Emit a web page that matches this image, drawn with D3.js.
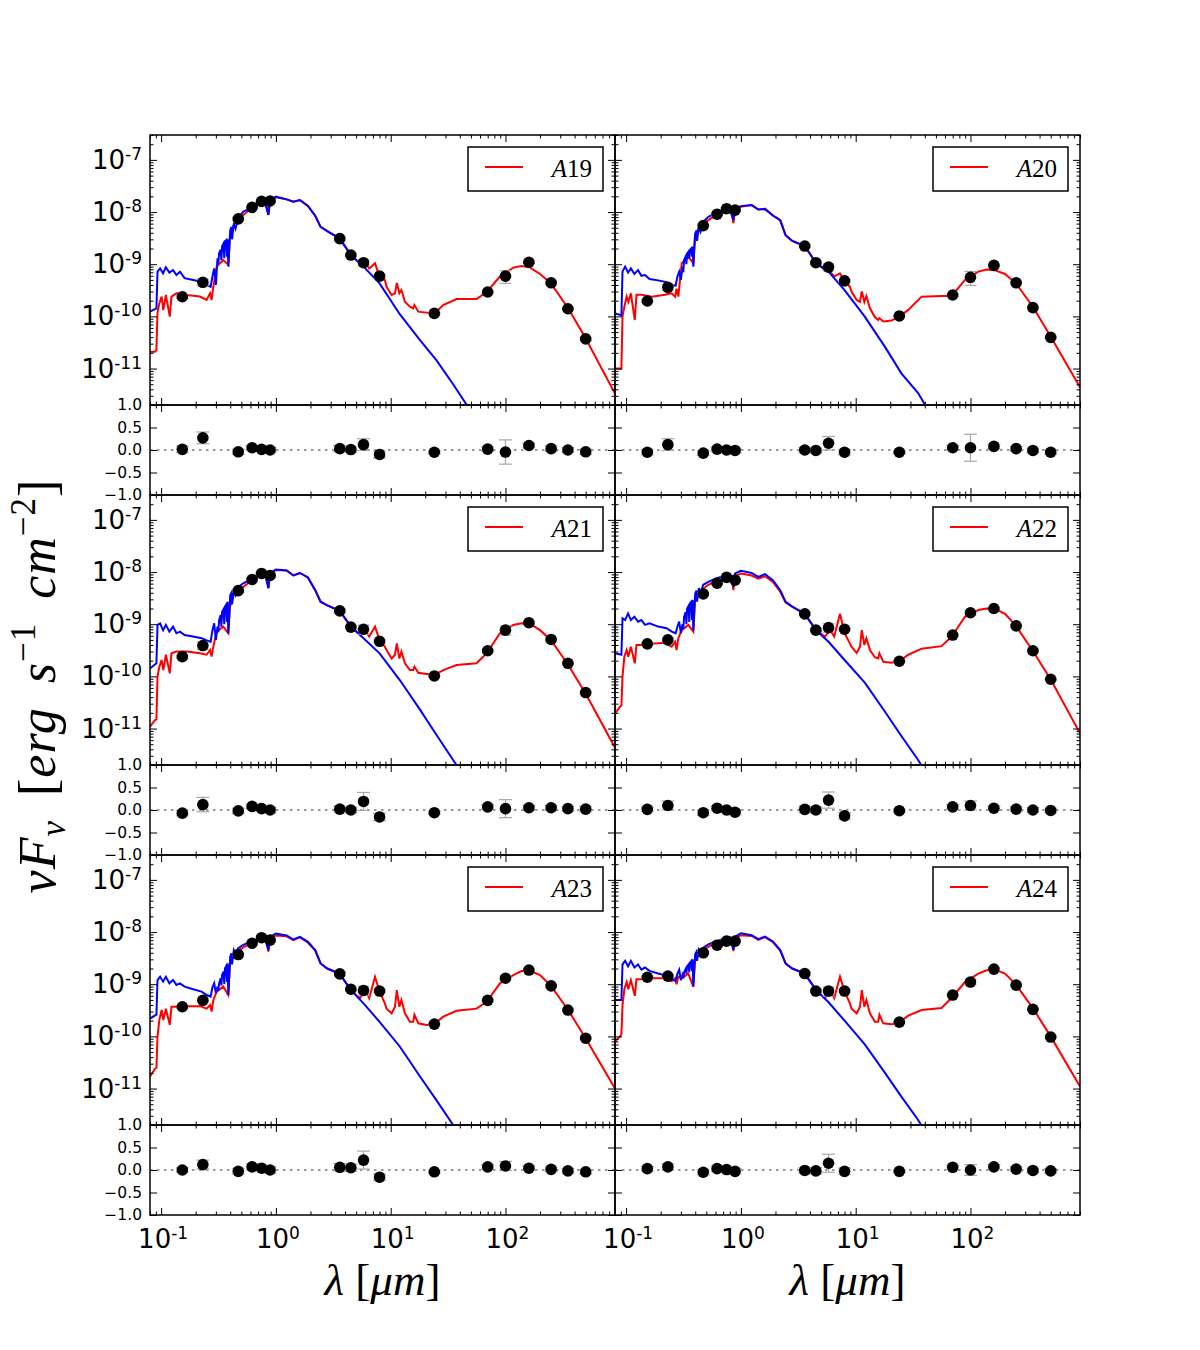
<!DOCTYPE html>
<html>
<head>
<meta charset="utf-8">
<script src="https://cdn.jsdelivr.net/npm/d3@7"></script>
<style>body{margin:0;background:#fff}</style>
</head>
<body>
<svg id="fig"></svg>
<script>
const width = 1200, height = 1350;
const UNIT = 1e-10; // all fluxes below are in units of 1e-10 erg s^-1 cm^-2

// photometric bands (micron)
const bands = [0.153, 0.231, 0.47, 0.62, 0.75, 0.89, 3.6, 4.5, 5.8, 8.0, 24, 70, 100, 160, 250, 350, 500];
// wavelength grids of the stellar (blue) and total model (red) curves
const lamStar = [0.080, 0.091, 0.093, 0.098, 0.104, 0.110, 0.118, 0.127, 0.136, 0.146, 0.160, 0.19, 0.225, 0.25, 0.27, 0.28, 0.29,
  0.30, 0.31, 0.315, 0.32, 0.33, 0.335, 0.34, 0.35, 0.355, 0.36, 0.37, 0.375, 0.38, 0.385, 0.40, 0.41, 0.415, 0.43, 0.445, 0.47,
  0.52, 0.60, 0.70, 0.80, 0.86, 0.89, 1.0, 1.24, 1.42, 1.62, 1.9, 2.2, 2.45, 2.8,
  3.6, 4.5, 5.8, 8.0, 12, 18, 25, 35, 46, 60];
const lamModel = [0.080, 0.0885, 0.091, 0.093, 0.0965, 0.101, 0.1045, 0.110, 0.119, 0.123, 0.136, 0.167, 0.218, 0.249, 0.267, 0.275, 0.285, 0.305, 0.348, 0.385,
  0.398, 0.434, 0.52, 0.61, 0.70, 0.83, 0.86, 0.89, 1.0, 1.24, 1.42, 1.62, 1.9, 2.2, 2.45, 2.8, 3.6, 4.5, 5.4, 6.0,
  6.5, 7.3, 8.0, 8.9, 9.2, 10.2, 10.9, 11.3, 11.9, 12.4, 13.3, 14.7, 15.7, 16.1, 17.4, 20.5, 24, 28.7, 37.5, 56,
  68.6, 89.5, 117, 138, 163, 200, 249, 352, 499, 900];

const names = ['A19', 'A20', 'A21', 'A22', 'A23', 'A24'];

// observed fluxes, residuals and residual errors per galaxy
const obsA19 = [2.38, 4.5, 74, 123, 160, 163, 31, 15, 10.7, 5.9, 1.14, 2.93, 5.9, 10.9, 4.4, 1.4, 0.37];
const resA19 = [0.015, 0.27, -0.04, 0.05, 0.015, 0.0, 0.03, 0.01, 0.12, -0.1, -0.05, 0.02, -0.045, 0.1, 0.03, 0.0, -0.04];
const errA19 = [0.07, 0.13, 0.06, 0.05, 0.05, 0.05, 0.07, 0.06, 0.13, 0.08, 0.03, 0.05, 0.27, 0.05, 0.06, 0.05, 0.06];
const obsA20 = [1.97, 3.6, 55, 91, 116, 109, 22.3, 10.7, 8.8, 4.8, 1.02, 2.57, 5.6, 9.5, 4.4, 1.47, 0.396];
const resA20 = [-0.05, 0.12, -0.07, 0.02, 0.0, -0.01, 0.0, -0.01, 0.15, -0.05, -0.05, 0.05, 0.05, 0.08, 0.03, -0.01, -0.05];
const errA20 = [0.06, 0.13, 0.05, 0.05, 0.05, 0.05, 0.06, 0.05, 0.15, 0.06, 0.03, 0.05, 0.3, 0.05, 0.05, 0.05, 0.05];
const obsA21 = [2.39, 3.9, 44, 72, 94, 86, 18, 8.8, 8.0, 4.7, 1.02, 3.1, 7.7, 10.7, 5.1, 1.78, 0.49];
const resA21 = [-0.07, 0.12, -0.02, 0.08, 0.03, 0.0, 0.02, 0.0, 0.19, -0.155, -0.06, 0.07, 0.03, 0.05, 0.05, 0.03, 0.02];
const errA21 = [0.06, 0.16, 0.06, 0.05, 0.05, 0.06, 0.07, 0.06, 0.2, 0.08, 0.03, 0.05, 0.2, 0.05, 0.05, 0.05, 0.06];
const obsA22 = [4.2, 5.0, 38, 61, 79, 70, 15.8, 7.7, 8.6, 8.0, 1.95, 6.2, 16.6, 20, 9.3, 3.1, 0.88];
const resA22 = [0.015, 0.1, -0.06, 0.04, 0.0, -0.05, 0.015, 0.0, 0.22, -0.13, -0.015, 0.07, 0.1, 0.04, 0.02, 0.0, -0.01];
const errA22 = [0.05, 0.1, 0.06, 0.05, 0.05, 0.06, 0.07, 0.07, 0.18, 0.07, 0.03, 0.05, 0.1, 0.05, 0.05, 0.05, 0.05];
const obsA23 = [3.7, 4.9, 37, 61, 78, 70, 15.8, 8.0, 7.6, 7.4, 1.72, 4.9, 13, 18.7, 9.3, 3.2, 0.92];
const resA23 = [0.0, 0.12, -0.03, 0.07, 0.04, 0.0, 0.06, 0.05, 0.22, -0.16, -0.04, 0.07, 0.09, 0.04, 0.015, -0.02, -0.04];
const errA23 = [0.05, 0.1, 0.06, 0.07, 0.06, 0.07, 0.08, 0.08, 0.2, 0.07, 0.03, 0.05, 0.1, 0.05, 0.05, 0.05, 0.05];
const obsA24 = [13.6, 14.3, 40, 56, 67, 67, 16, 7.4, 7.4, 7.4, 1.88, 6.2, 11, 19.5, 9.6, 3.3, 0.97];
const resA24 = [0.03, 0.07, -0.05, 0.03, 0.01, -0.03, -0.01, -0.02, 0.15, -0.03, -0.03, 0.06, 0.0, 0.07, 0.02, -0.01, -0.02];
const errA24 = [0.05, 0.07, 0.06, 0.06, 0.05, 0.06, 0.06, 0.07, 0.2, 0.07, 0.03, 0.05, 0.12, 0.05, 0.05, 0.05, 0.05];

// stellar photosphere (blue), on lamStar
const starA19 = [1.23, 1.43, 7.2, 8.3, 6.7, 8.7, 6.9, 7.7, 6.2, 7.2, 5.4, 5.0, 4.6, 4.0, 3.7, 5.8, 8.3,
  4.0, 13, 10, 16, 19, 12, 22, 25, 13, 27, 29, 14, 30, 9.0, 45, 52, 30, 61, 48, 76,
  102, 118, 147, 155, 88, 170, 197, 175, 158, 170, 131, 85, 52, 43,
  31, 15, 9.0, 4.3, 1.1, 0.35, 0.145, 0.05, 0.02, 0.0082];
const starA20 = [1.14, 1.05, 7.2, 9.0, 6.9, 8.3, 6.5, 7.7, 6.0, 6.2, 5.2, 4.9, 4.5, 4.0, 3.9, 5.8, 7.2,
  5.0, 9, 7, 12, 14, 10, 16, 17.5, 13, 18.7, 20, 14, 21.7, 9.0, 39, 44, 28, 52, 42, 65,
  81, 94, 107, 112, 70, 115, 130, 136, 112, 115, 86, 70, 36, 28,
  22.3, 10.7, 7.2, 3.2, 0.99, 0.26, 0.081, 0.034, 0.012, 0.005];
const starA21 = [1.42, 1.78, 9.7, 10.4, 7.7, 9.7, 7.2, 9.0, 6.7, 7.2, 6.2, 5.8, 5.4, 4.9, 4.6, 7.7, 10.4,
  5.0, 9, 7, 12, 15, 9, 17.4, 19.5, 10, 21.7, 24, 11, 27, 6.7, 36, 40, 24, 45, 36, 52,
  61, 72, 83, 94, 49, 96, 112, 107, 86, 96, 79, 45, 27, 23,
  18, 9.0, 5.4, 2.77, 0.85, 0.23, 0.076, 0.025, 0.010, 0.004];
const starA22 = [2.77, 2.6, 13, 12, 16.1, 12, 13.9, 11.2, 12, 9.7, 10.4, 9.0, 8.4, 7.2, 6.7, 9.0, 11.2,
  6.7, 10, 8, 13.9, 17, 10, 20, 22.5, 11, 25, 27, 12, 29, 7.7, 39, 44, 27, 49, 40, 57,
  65, 75, 83, 91, 52, 94, 106, 96, 81, 91, 70, 45, 27, 21.7,
  15.8, 7.7, 4.6, 2.06, 0.76, 0.21, 0.072, 0.025, 0.009, 0.0035];
const starA23 = [2.2, 2.6, 12, 13.9, 11.2, 13.9, 10.4, 12, 9.7, 10.4, 9.0, 8.0, 7.2, 6.2, 5.8, 8.7, 10.4,
  6.7, 9, 7.5, 10.4, 13, 9.5, 15, 17.5, 10, 20, 22.5, 11, 25, 6.2, 34, 39, 24, 45, 38, 49,
  57, 65, 72, 79, 45, 81, 94, 86, 72, 81, 65, 45, 25, 20,
  15.8, 7.7, 4.3, 1.9, 0.64, 0.17, 0.06, 0.02, 0.007, 0.0029];
const starA24 = [5, 5, 24, 28, 22, 28, 21, 24, 19, 21, 18, 16, 14.5, 12.5, 11.5, 16, 19,
  12, 15, 13, 17, 19.5, 16, 22, 24, 17, 26, 28, 18, 30, 9, 38, 42, 28, 46, 40, 50,
  58, 66, 73, 80, 46, 82, 95, 87, 73, 82, 66, 45, 25, 20,
  16, 7.8, 4.5, 2.0, 0.7, 0.2, 0.07, 0.025, 0.009, 0.0035];

// total model (red), on lamModel
const modelA19 = [0.21, 0.21, 0.23, 1.2, 1.78, 2.4, 1.32, 2.57, 0.99, 2.4, 2.77, 2.57, 2.4, 2.06, 2.77, 2.06, 3.7, 9.0, 12, 9.7,
  34, 61, 88, 118, 136, 147, 88, 165, 191, 175, 158, 170, 131, 85, 52, 43, 31, 15, 10.4, 11.2,
  8.3, 10.4, 5.8, 5.0, 3.7, 2.57, 2.77, 4.4, 2.77, 3.2, 1.91, 1.53, 1.43, 1.65, 1.23, 1.18, 1.14, 1.65, 2.15, 2.15,
  2.93, 5.8, 8.6, 9.2, 8.7, 6.5, 4.3, 1.43, 0.38, 0.033];
const modelA20 = [0.10, 0.10, 0.10, 0.99, 1.53, 2.39, 1.9, 2.77, 0.85, 2.6, 2.6, 2.39, 2.6, 2.77, 2.39, 3.4, 2.39, 10.4, 13.9, 10.4,
  36, 52, 70, 89, 96, 105, 61, 112, 127, 136, 112, 115, 86, 70, 36, 28, 22.3, 10.7, 7.7, 7.2,
  5.8, 6.7, 4.7, 3.7, 3.0, 2.06, 1.9, 3.0, 1.9, 2.46, 1.43, 0.97, 0.85, 0.92, 0.80, 0.83, 0.99, 1.33, 2.39, 2.46,
  2.46, 5.0, 7.2, 7.9, 7.7, 6.5, 4.3, 1.5, 0.41, 0.044];
const modelA21 = [0.109, 0.146, 0.15, 0.99, 1.53, 2.06, 1.32, 2.6, 1.14, 2.77, 3.0, 3.0, 2.77, 2.6, 3.2, 2.39, 3.7, 7.2, 9.0, 6.7,
  21.7, 39, 52, 68, 79, 86, 49, 94, 109, 107, 86, 96, 79, 45, 27, 23, 18, 9.0, 6.2, 7.7,
  5.8, 9.0, 5.0, 3.7, 3.2, 2.2, 2.6, 4.3, 2.2, 3.0, 1.78, 1.32, 1.32, 1.53, 1.17, 1.11, 1.06, 1.32, 1.65, 1.78,
  2.77, 6.7, 9.7, 10.4, 10.2, 7.7, 5.0, 1.65, 0.47, 0.043];
const modelA22 = [0.195, 0.26, 0.28, 0.99, 2.39, 3.2, 2.39, 3.7, 1.78, 4.0, 4.0, 4.2, 4.4, 3.7, 4.6, 3.2, 5.4, 7.7, 9.7, 7.2,
  29, 42, 57, 68, 75, 83, 45, 83, 94, 86, 75, 83, 65, 42, 26, 21.7, 15.8, 7.7, 5.8, 7.7,
  5.8, 15.8, 6.7, 4.3, 3.7, 2.8, 3.7, 7.7, 4.0, 5.4, 3.2, 2.33, 2.2, 2.77, 1.9, 1.83, 1.95, 2.6, 3.4, 3.8,
  5.8, 13.9, 18.7, 20, 19.8, 15.8, 9.3, 3.0, 0.88, 0.081];
const modelA23 = [0.17, 0.24, 0.25, 0.99, 2.06, 3.2, 2.06, 3.4, 1.65, 3.7, 3.7, 3.8, 3.8, 3.4, 4.0, 3.0, 5.0, 7.2, 9.0, 6.2,
  25, 39, 51, 61, 68, 75, 42, 75, 86, 83, 70, 79, 63, 44, 25, 20, 15.8, 7.7, 5.4, 7.7,
  5.4, 13.9, 7.2, 4.3, 3.4, 2.77, 3.7, 7.7, 3.7, 5.0, 2.77, 1.9, 1.9, 2.6, 1.78, 1.65, 1.72, 2.39, 3.1, 3.4,
  4.6, 10.4, 15, 17.9, 18.1, 15, 9.3, 3.2, 0.92, 0.10];
const modelA24 = [0.8, 1.0, 1.1, 4.0, 8.0, 11, 8.0, 12, 6.0, 12.5, 12.5, 13, 13, 11.5, 13, 10, 14, 13, 16, 9,
  30, 40, 52, 62, 69, 76, 43, 76, 87, 84, 71, 80, 64, 44, 25, 20, 16, 7.8, 5.4, 7.7,
  5.4, 14, 7.3, 4.3, 3.4, 2.77, 3.7, 7.7, 3.7, 5.0, 2.77, 1.9, 1.9, 2.6, 1.78, 1.7, 1.85, 2.5, 3.2, 3.5,
  5.5, 11, 16, 18.5, 19, 16, 9.8, 3.4, 1.0, 0.11];

// tick labels
const sedTicks = [1e-11, 1e-10, 1e-9, 1e-8, 1e-7];
const resTicks = [-1, -0.5, 0, 0.5, 1];
const lamTicks = [0.1, 1, 10, 100];

const panels = [
  { name: names[0], obs: obsA19, res: resA19, err: errA19, star: starA19, model: modelA19 },
  { name: names[1], obs: obsA20, res: resA20, err: errA20, star: starA20, model: modelA20 },
  { name: names[2], obs: obsA21, res: resA21, err: errA21, star: starA21, model: modelA21 },
  { name: names[3], obs: obsA22, res: resA22, err: errA22, star: starA22, model: modelA22 },
  { name: names[4], obs: obsA23, res: resA23, err: errA23, star: starA23, model: modelA23 },
  { name: names[5], obs: obsA24, res: resA24, err: errA24, star: starA24, model: modelA24 }
];

// layout
const colLeft = [150, 615];
const rowTop = [135, 495, 855];
const axW = 465, sedH = 270, resH = 90;
const tickFont = 'DejaVu Sans, sans-serif';
const mathFont = 'Liberation Serif, serif';

const svg = d3.select('#fig')
  .attr('width', width)
  .attr('height', height);
svg.append('rect').attr('width', width).attr('height', height).attr('fill', '#fff');

const x = d3.scaleLog().domain([0.08, 900]).range([0, axW]);
const ySed = d3.scaleLog().domain([2e-12, 3e-7]).range([sedH, 0]);
const yRes = d3.scaleLinear().domain([-1, 1]).range([resH, 0]);

const isDecade = d => Math.abs(Math.log10(d) - Math.round(Math.log10(d))) < 1e-6;
const xMajor = x.ticks().filter(isDecade);
const xMinor = x.ticks().filter(d => !isDecade(d));
const yMajor = ySed.ticks().filter(isDecade);
const yMinor = ySed.ticks().filter(d => !isDecade(d));

// inward ticks on all four sides
function drawTicks(g, ys, h, yMaj, yMin) {
  const put = (axis, tx, ty) => {
    const a = g.append('g').attr('transform', `translate(${tx},${ty})`).call(axis);
    a.select('.domain').remove();
    a.selectAll('line').attr('stroke', '#000').attr('stroke-width', 1);
  };
  [[d3.axisBottom, 0, h], [d3.axisTop, 0, 0]].forEach(([ax, tx, ty]) => {
    put(ax(x).tickValues(xMajor).tickSize(-7).tickFormat(''), tx, ty);
    put(ax(x).tickValues(xMinor).tickSize(-3.5).tickFormat(''), tx, ty);
  });
  [[d3.axisLeft, 0, 0], [d3.axisRight, axW, 0]].forEach(([ax, tx, ty]) => {
    put(ax(ys).tickValues(yMaj).tickSize(-7).tickFormat(''), tx, ty);
    if (yMin.length) put(ax(ys).tickValues(yMin).tickSize(-3.5).tickFormat(''), tx, ty);
  });
}

// "10" with a raised exponent
function powLabel(sel) {
  sel.each(function (d) {
    const t = d3.select(this);
    t.append('tspan').text('10');
    t.append('tspan').attr('dy', -9).style('font-size', '17px').text(String(Math.round(Math.log10(d))));
  });
}

const errColor = '#a8a8a8';

panels.forEach((p, i) => {
  const col = i % 2, row = Math.floor(i / 2);
  const g = svg.append('g').attr('transform', `translate(${colLeft[col]},${rowTop[row]})`);

  // ---- SED panel ----
  const clipId = 'clip' + i;
  g.append('clipPath').attr('id', clipId)
    .append('rect').attr('width', axW).attr('height', sedH);

  const line = d3.line().x(d => x(d[0])).y(d => ySed(d[1] * UNIT));
  const curves = g.append('g').attr('clip-path', `url(#${clipId})`);
  curves.append('path')
    .attr('d', line(d3.zip(lamModel, p.model)))
    .attr('fill', 'none').attr('stroke', '#ff0000').attr('stroke-width', 2);
  curves.append('path')
    .attr('d', line(d3.zip(lamStar, p.star)))
    .attr('fill', 'none').attr('stroke', '#0000ff').attr('stroke-width', 2);

  const pts = bands.map((b, k) => ({ lam: b, f: p.obs[k] * UNIT, r: p.res[k], e: p.err[k] }));

  // error bars on fluxes
  const eb = curves.append('g').attr('stroke', errColor).attr('stroke-width', 1.2);
  pts.forEach(d => {
    const cx = x(d.lam), y1 = ySed(d.f * (1 + d.e)), y2 = ySed(d.f * (1 - d.e));
    eb.append('line').attr('x1', cx).attr('x2', cx).attr('y1', y1).attr('y2', y2);
    eb.append('line').attr('x1', cx - 6).attr('x2', cx + 6).attr('y1', y1).attr('y2', y1);
    eb.append('line').attr('x1', cx - 6).attr('x2', cx + 6).attr('y1', y2).attr('y2', y2);
  });
  curves.append('g').selectAll('circle').data(pts).join('circle')
    .attr('cx', d => x(d.lam)).attr('cy', d => ySed(d.f)).attr('r', 5.8).attr('fill', '#000');

  drawTicks(g, ySed, sedH, yMajor, yMinor);
  g.append('rect').attr('width', axW).attr('height', sedH)
    .attr('fill', 'none').attr('stroke', '#000').attr('stroke-width', 1.5);

  // legend
  const lg = g.append('g').attr('transform', `translate(${axW - 147},12)`);
  lg.append('rect').attr('width', 135).attr('height', 44)
    .attr('fill', '#fff').attr('stroke', '#000').attr('stroke-width', 1.5);
  lg.append('line').attr('x1', 17).attr('x2', 55).attr('y1', 20).attr('y2', 20)
    .attr('stroke', '#ff0000').attr('stroke-width', 2);
  const lt = lg.append('text').attr('x', 124).attr('y', 30).attr('text-anchor', 'end')
    .style('font-family', mathFont).style('font-size', '25px');
  lt.append('tspan').style('font-style', 'italic').text(p.name.slice(0, 1));
  lt.append('tspan').text(p.name.slice(1));

  if (col === 0) {
    g.selectAll('.ylab').data(sedTicks).join('text')
      .attr('x', -8).attr('y', d => ySed(d) + 9)
      .attr('text-anchor', 'end')
      .style('font-family', tickFont).style('font-size', '26px')
      .call(powLabel);
  }

  // ---- residual panel ----
  const r = svg.append('g').attr('transform', `translate(${colLeft[col]},${rowTop[row] + sedH})`);
  r.append('line').attr('x1', 0).attr('x2', axW).attr('y1', yRes(0)).attr('y2', yRes(0))
    .attr('stroke', '#777').attr('stroke-width', 1.5).attr('stroke-dasharray', '2.5,4.5');
  const rb = r.append('g').attr('stroke', errColor).attr('stroke-width', 1.2);
  pts.forEach(d => {
    const cx = x(d.lam), y1 = yRes(d.r + d.e), y2 = yRes(d.r - d.e);
    rb.append('line').attr('x1', cx).attr('x2', cx).attr('y1', y1).attr('y2', y2);
    rb.append('line').attr('x1', cx - 6.5).attr('x2', cx + 6.5).attr('y1', y1).attr('y2', y1);
    rb.append('line').attr('x1', cx - 6.5).attr('x2', cx + 6.5).attr('y1', y2).attr('y2', y2);
  });
  r.append('g').selectAll('circle').data(pts).join('circle')
    .attr('cx', d => x(d.lam)).attr('cy', d => yRes(d.r)).attr('r', 5.8).attr('fill', '#000');

  drawTicks(r, yRes, resH, resTicks, []);
  r.append('rect').attr('width', axW).attr('height', resH)
    .attr('fill', 'none').attr('stroke', '#000').attr('stroke-width', 1.5);

  if (col === 0) {
    r.selectAll('.rlab').data(resTicks).join('text')
      .attr('x', -8).attr('y', d => yRes(d) + 5)
      .attr('text-anchor', 'end')
      .style('font-family', tickFont).style('font-size', '15.5px')
      .text(d3.format('.1f'));
  }
  if (row === 2) {
    r.selectAll('.xlab').data(lamTicks).join('text')
      .attr('x', d => x(d) + 2).attr('y', resH + 33)
      .attr('text-anchor', 'middle')
      .style('font-family', tickFont).style('font-size', '26px')
      .call(powLabel);
    // x axis title
    const xt = r.append('text').attr('x', axW / 2).attr('y', resH + 80)
      .attr('text-anchor', 'middle').style('white-space', 'pre')
      .style('font-family', mathFont).style('font-size', '45px');
    xt.append('tspan').style('font-style', 'italic').text('λ');
    xt.append('tspan').text(' [');
    xt.append('tspan').style('font-style', 'italic').text('μm');
    xt.append('tspan').text(']');
  }
});

// y axis title
const yt = svg.append('text').attr('transform', 'translate(55,686) rotate(-90)')
  .attr('text-anchor', 'middle').style('white-space', 'pre').style('letter-spacing', '1px')
  .style('font-family', mathFont).style('font-size', '52px');
yt.append('tspan').style('font-style', 'italic').text('νF');
yt.append('tspan').attr('dy', 10).style('font-style', 'italic').style('font-size', '35px').text('ν');
yt.append('tspan').attr('dy', -10).attr('dx', 10).text(' [');
yt.append('tspan').style('font-style', 'italic').text('erg');
yt.append('tspan').attr('dx', 10).style('font-style', 'italic').text(' s');
yt.append('tspan').attr('dy', -20).style('font-size', '35px').text('−1');
yt.append('tspan').attr('dy', 20).attr('dx', 10).style('font-style', 'italic').text(' cm');
yt.append('tspan').attr('dy', -20).style('font-size', '35px').text('−2');
yt.append('tspan').attr('dy', 20).text(']');
</script>
</body>
</html>
